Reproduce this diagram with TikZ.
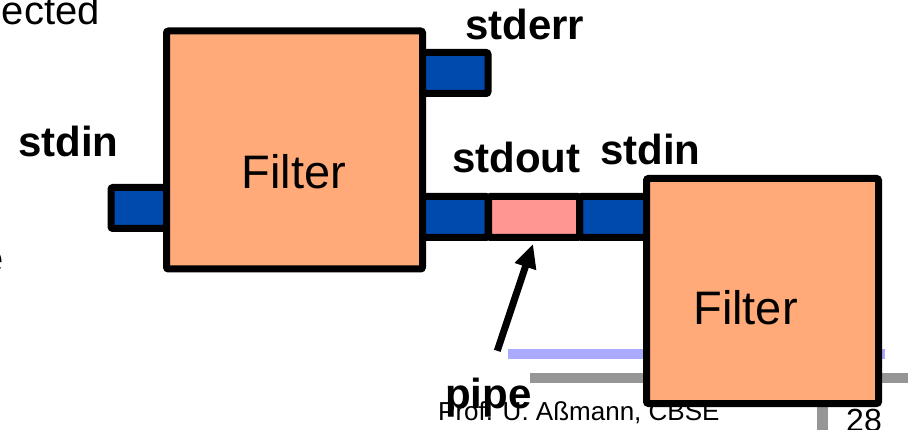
\documentclass[tikz,border=0pt]{standalone}
\usepackage{fontspec}
\setmainfont{Liberation Sans}
\usepackage{tikz}
\usetikzlibrary{arrows.meta}
\definecolor{filterbg}{HTML}{FFAA78}
\definecolor{portblue}{HTML}{004AAD}
\definecolor{pipebg}{HTML}{FF9692}
\definecolor{rulelav}{HTML}{AAAAFF}
\definecolor{rulegray}{HTML}{969696}

\begin{document}
\begin{tikzpicture}[x=1pt, y=-1pt, >={Triangle[length=24pt,width=21pt]},
  box/.style={draw, line width=7pt, rounded corners=2pt, inner sep=0pt},
  filterbox/.style={box, fill=filterbg},
  port/.style={box, fill=portblue, minimum height=41pt},
  portname/.style={anchor=base west, inner sep=0pt, font=\fontsize{42}{42}\selectfont\bfseries},
  slidetext/.style={inner sep=0pt, font=\fontsize{40}{40}\selectfont}]
  \useasboundingbox (0,0) rectangle (908,430);

  % slide footer
  \draw[rulelav, line width=10pt] (508,354) -- (885,354);
  \draw[rulegray, line width=10pt] (530,378) -- (908,378);
  \fill[rulegray] (817,407) rectangle (828,430);
  \node[anchor=base west, inner sep=0pt, font=\fontsize{26}{26}\selectfont] (footer) at (438,420) {Prof. U. Aßmann, CBSE};
  \node[anchor=base west, inner sep=0pt, font=\fontsize{32}{32}\selectfont] (pagenum) at (846,431) {28};

  % cut-off slide text
  \node[slidetext, anchor=base east] (cuttop) at (100,25) {ected};
  \node[slidetext, anchor=base east] (cutleft) at (4,273) {e};

  % ports and pipe
  \node[port, minimum width=64pt] (inA) at (143,208) {};
  \node[port, minimum width=78pt] (errA) at (449,73) {};
  \node[port, minimum width=78pt] (outA) at (449,217) {};
  \node[port, minimum width=81pt] (inB) at (620,217) {};
  \node[box, fill=pipebg, minimum width=91pt, minimum height=41pt] (pipe) at (534,217) {};

  % filters
  \node[filterbox, minimum width=256pt, minimum height=238pt] (filterA) at (294.5,150) {};
  \node[filterbox, minimum width=232pt, minimum height=225pt] (filterB) at (762.5,291) {};
  \node[slidetext, anchor=base, font=\fontsize{47}{47}\selectfont] (filterAname) at (294,189) {Filter};
  \node[slidetext, anchor=base, font=\fontsize{47}{47}\selectfont] (filterBname) at (745.5,325) {Filter};

  % labels
  \node[portname] (inAname) at (18,157) {stdin};
  \node[portname] (errAname) at (465,40) {stderr};
  \node[portname] (outAname) at (452,173) {stdout};
  \node[portname] (inBname) at (600,165) {stdin};
  \node[portname] (pipename) at (445,408) {pipe};

  \draw[->, line width=7pt, shorten <=28pt, shorten >=3pt] (pipename.north) -- (pipe.south);
\end{tikzpicture}
\end{document}
